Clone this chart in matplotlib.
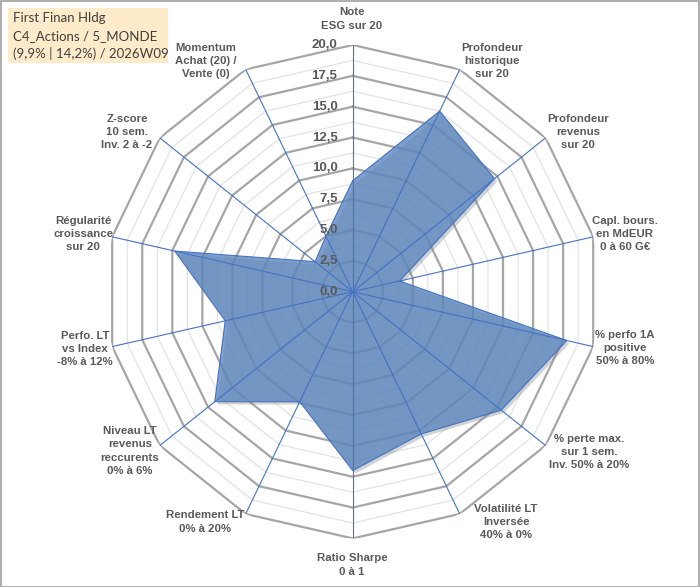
import numpy as np
import matplotlib
matplotlib.use("Agg")
import matplotlib.pyplot as plt
from matplotlib import patheffects
from matplotlib.patches import Rectangle

criteres = [
    "Note\nESG sur 20",
    "Profondeur\nhistorique\nsur 20",
    "Profondeur\nrevenus\nsur 20",
    "Capl. bours.\nen MdEUR\n0 à 60 G€",
    "% perfo 1A\npositive\n50% à 80%",
    "% perte max.\nsur 1 sem.\nInv. 50% à 20%",
    "Volatilité LT\nInversée\n40% à 0%",
    "Ratio Sharpe\n0 à 1",
    "Rendement LT\n0% à 20%",
    "Niveau LT\nrevenus\nreccurents\n0% à 6%",
    "Perfo. LT\nvs Index\n-8% à 12%",
    "Régularité\ncroissance\nsur 20",
    "Z-score\n10 sem.\nInv. 2 à -2",
    "Momentum\nAchat (20) /\nVente (0)",
]
notes = [9.0, 16.25, 14.7, 3.9, 17.8, 15.4, 12.8, 14.5, 9.9, 14.3, 10.6, 14.8, 3.9, 5.0]
graduations = [0, 2.5, 5, 7.5, 10, 12.5, 15, 17.5, 20]
titre = ["First Finan Hldg", "C4_Actions / 5_MONDE", "(9,9% | 14,2%) / 2026W09"]

# centres des libellés en pixels (x, y depuis le haut)
pos_libelles = [(352, 19), (492, 61), (578, 132), (625, 234), (625, 348),
                (589, 452), (506, 522), (352, 565), (205, 522), (130, 451),
                (85, 349), (83, 234), (127, 132), (206, 61)]

W, H = 700, 587
GRIS = "#595959"

fig = plt.figure(figsize=(W / 100, H / 100), dpi=100)
cx, cy, R = 352.7, 291.7, 246.7
ax = fig.add_axes([(cx - R) / W, (H - cy - R) / H, 2 * R / W, 2 * R / H], projection="polar")
ax.set_theta_zero_location("N")
ax.set_theta_direction(-1)
ax.set_ylim(0, 20)
ax.grid(False)
ax.spines["polar"].set_visible(False)
ax.set_xticks([])
ax.set_yticks([])
ax.patch.set_alpha(0)

n = len(criteres)
angles = np.linspace(0, 2 * np.pi, n, endpoint=False)
angles_f = np.append(angles, angles[0])

# anneaux polygonaux : majeurs et mineurs
for r in np.arange(1.25, 20.01, 1.25):
    majeur = abs(r / 2.5 - round(r / 2.5)) < 1e-6
    ax.plot(angles_f, [r] * (n + 1),
            color="#A6A6A6" if majeur else "#E0E0E0",
            lw=1.6 if majeur else 0.8, zorder=1)

# rayons
for a in angles:
    ax.plot([a, a], [0, 20], color="#4472C4", lw=0.8, zorder=3)

vals = notes + notes[:1]
poly = ax.fill(angles_f, vals, facecolor="#5B87BE", alpha=0.8, zorder=2)[0]
poly.set_path_effects([patheffects.SimplePatchShadow(offset=(2, -2), shadow_rgbFace="#808080", alpha=0.35),
                       patheffects.Normal()])
ax.plot(angles_f, vals, color="#4472C4", lw=0.8, zorder=2.5)

for g in graduations:
    ax.annotate(f"{g:.1f}".replace(".", ","), xy=(0, g), xytext=(-11, 0),
                textcoords="offset points", ha="right", va="center",
                fontsize=9.5, fontweight="bold", color=GRIS,
                family="Liberation Sans", zorder=4)

for lib, (x, y) in zip(criteres, pos_libelles):
    fig.text(x / W, 1 - y / H, lib, ha="center", va="center", fontsize=8.2,
             fontweight="bold", color=GRIS, family="Liberation Sans",
             linespacing=1.4)

# cartouche titre
fig.patches.append(Rectangle((8 / W, 1 - 63 / H), 160 / W, 55 / H,
                             transform=fig.transFigure, facecolor="#FDEBC9",
                             edgecolor="none", zorder=0))
for i, ligne in enumerate(titre):
    fig.text(13 / W, 1 - (18 + 18 * i) / H, ligne, ha="left", va="center",
             fontsize=9.5, color="#404040", family="Lato")

fig.patches.append(Rectangle((0.5 / W, 0.5 / H), (W - 1.5) / W, (H - 1.5) / H,
                             transform=fig.transFigure, facecolor="none",
                             edgecolor="#A0A0A0", lw=1.2))

fig.savefig("out.png", dpi=100)
